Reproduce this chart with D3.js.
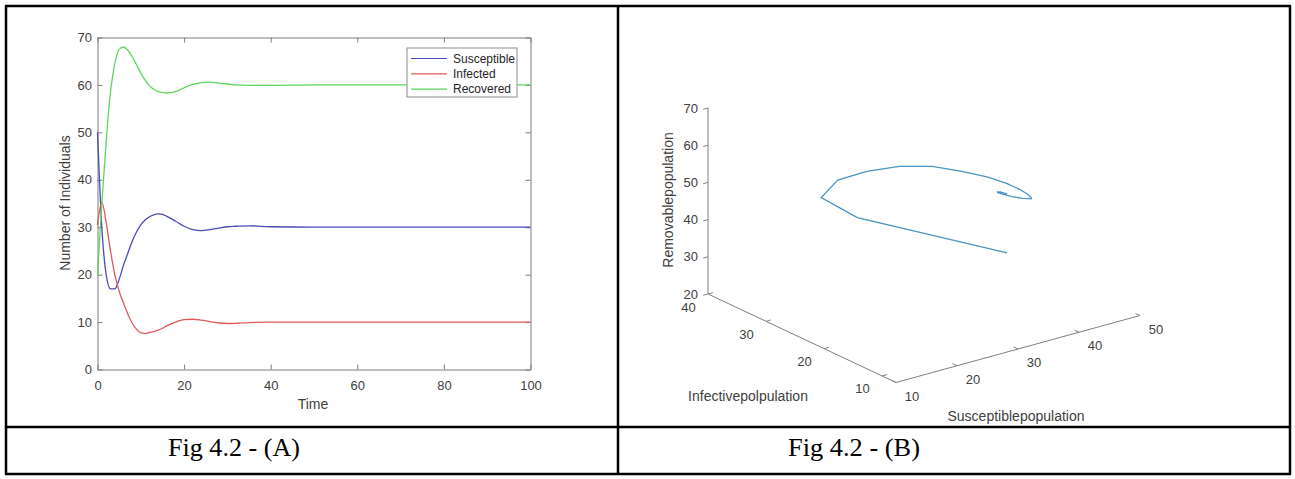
<!DOCTYPE html>
<html>
<head>
<meta charset="utf-8">
<script src="https://cdn.jsdelivr.net/npm/d3@7"></script>
<style>
	body { margin: 0; background: #fff; }
	svg { display: block; font-family: "Liberation Sans", Arial, sans-serif; }
	.axis path, .axis line { stroke: #7d7d7d; stroke-width: 1; fill: none; }
	.axis text { fill: #404040; font-size: 13px; }
	.axis-title { fill: #404040; font-size: 14px; }
	.series { fill: none; stroke-width: 1.3; }
	.legend-box { fill: #fff; stroke: #8c8c8c; stroke-width: 1; }
	.legend text { fill: #262626; font-size: 12px; }
	.table-line { stroke: #000; stroke-width: 2.5; fill: none; }
	.caption { font-family: "Liberation Serif", "DejaVu Serif", serif; font-size: 25px; fill: #000; }
	.axis3d { stroke: #808080; stroke-width: 1; fill: none; }
	.tick3d text { fill: #404040; font-size: 13px; }
</style>
</head>
<body>
<div id="graphic"></div>
<script>
// Data (SIR model run)
var TIME = [0, 1, 2, 3, 4, 5, 6, 7, 8, 9, 10, 11, 12, 13, 14, 15, 16, 18, 20, 22, 24, 26, 28, 30, 32, 35, 40, 50, 60, 80, 100];
var SUSCEPTIBLE = [50, 30, 20, 17, 17, 19, 22, 24.5, 27, 29, 30.5, 31.5, 32.2, 32.6, 32.8, 32.7, 32.3, 31.3, 30.2, 29.5, 29.3, 29.5, 29.8, 30.1, 30.2, 30.3, 30.1, 30, 30, 30, 30];
var INFECTED = [30.5, 35.3, 31, 25, 20, 16.5, 14, 11.7, 9.8, 8.5, 7.7, 7.6, 7.8, 8.0, 8.3, 8.7, 9.2, 10, 10.5, 10.6, 10.4, 10.1, 9.8, 9.7, 9.75, 9.9, 10, 10, 10, 10, 10];
var RECOVERED = [20, 35, 48, 58.5, 64.5, 67.5, 68, 67.3, 66, 64.3, 62.5, 61, 59.8, 59.1, 58.6, 58.4, 58.3, 58.6, 59.4, 60.1, 60.5, 60.6, 60.4, 60.2, 60, 59.9, 59.9, 60, 60, 60, 60];

var SERIES_NAMES = ['Susceptible', 'Infected', 'Recovered'];
var SERIES_COLORS = ['#4a4ab8', '#e05a5c', '#5ed65e'];

var X_TICKS = [0, 20, 40, 60, 80, 100];
var Y_TICKS = [0, 10, 20, 30, 40, 50, 60, 70];

// 3D axis ticks
var S_TICKS = [10, 20, 30, 40, 50];
var I_TICKS = [10, 20, 30, 40];
var R_TICKS = [20, 30, 40, 50, 60, 70];

var CAPTIONS = ['Fig 4.2 - (A)', 'Fig 4.2 - (B)'];

var WIDTH = 1295;
var HEIGHT = 479;

/*
 * Build rows for the line generators.
 */
function formatData() {
	var values = [SUSCEPTIBLE, INFECTED, RECOVERED];
	var series = SERIES_NAMES.map(function(name, k) {
		return {
			name: name,
			color: SERIES_COLORS[k],
			values: TIME.map(function(t, i) { return { t: t, v: values[k][i] }; })
		};
	});
	var trajectory = TIME.map(function(t, i) {
		return { s: SUSCEPTIBLE[i], i: INFECTED[i], r: RECOVERED[i] };
	});
	return { series: series, trajectory: trajectory };
}

function render() {
	var data = formatData();

	var svg = d3.select('#graphic').append('svg')
		.attr('width', WIDTH)
		.attr('height', HEIGHT);

	drawTable(svg);
	drawTimePlot(svg, data.series);
	drawPhasePlot(svg, data.trajectory);
}

/*
 * Table frame and captions.
 */
function drawTable(svg) {
	var left = 6, right = 1290, top = 6, bottom = 474, mid = 618, row = 427;

	svg.append('rect')
		.attr('class', 'table-line')
		.attr('x', left).attr('y', top)
		.attr('width', right - left).attr('height', bottom - top);

	svg.append('line').attr('class', 'table-line')
		.attr('x1', mid).attr('x2', mid).attr('y1', top).attr('y2', bottom);

	svg.append('line').attr('class', 'table-line')
		.attr('x1', left).attr('x2', right).attr('y1', row).attr('y2', row);

	var captionX = [168, 788];
	svg.selectAll('text.caption')
		.data(CAPTIONS)
		.enter().append('text')
		.attr('class', 'caption')
		.attr('x', function(d, i) { return captionX[i]; })
		.attr('y', 456)
		.attr('textLength', 132)
		.attr('lengthAdjust', 'spacingAndGlyphs')
		.text(function(d) { return d; });
}

/*
 * Left panel: populations against time.
 */
function drawTimePlot(svg, series) {
	var xScale = d3.scaleLinear().domain([0, 100]).range([97.5, 530.5]);
	var yScale = d3.scaleLinear().domain([0, 70]).range([369.5, 37.5]);

	var g = svg.append('g');

	g.append('g')
		.attr('class', 'axis')
		.attr('transform', 'translate(0,' + yScale(0) + ')')
		.call(d3.axisBottom(xScale).tickValues(X_TICKS).tickSizeInner(-5).tickSizeOuter(0).tickPadding(11));

	g.append('g')
		.attr('class', 'axis')
		.attr('transform', 'translate(0,' + yScale(70) + ')')
		.call(d3.axisTop(xScale).tickValues(X_TICKS).tickSizeInner(-5).tickSizeOuter(0).tickFormat(''));

	g.append('g')
		.attr('class', 'axis')
		.attr('transform', 'translate(' + xScale(0) + ',0)')
		.call(d3.axisLeft(yScale).tickValues(Y_TICKS).tickSizeInner(-5).tickSizeOuter(0).tickPadding(5.5));

	g.append('g')
		.attr('class', 'axis')
		.attr('transform', 'translate(' + xScale(100) + ',0)')
		.call(d3.axisRight(yScale).tickValues(Y_TICKS).tickSizeInner(-5).tickSizeOuter(0).tickFormat(''));

	var line = d3.line()
		.curve(d3.curveMonotoneX)
		.x(function(d) { return xScale(d.t); })
		.y(function(d) { return yScale(d.v); });

	g.append('g').selectAll('path')
		.data(series)
		.enter().append('path')
		.attr('class', 'series')
		.attr('stroke', function(d) { return d.color; })
		.attr('d', function(d) { return line(d.values); });

	// axis titles
	g.append('text')
		.attr('class', 'axis-title')
		.attr('transform', 'translate(65,203) rotate(-90)')
		.attr('text-anchor', 'middle')
		.attr('dy', '0.35em')
		.text('Number of Individuals');

	g.append('text')
		.attr('class', 'axis-title')
		.attr('x', 313).attr('y', 404)
		.attr('text-anchor', 'middle')
		.attr('dy', '0.35em')
		.text('Time');

	// legend
	var legend = g.append('g').attr('class', 'legend');
	legend.append('rect')
		.attr('class', 'legend-box')
		.attr('x', 407).attr('y', 48)
		.attr('width', 110).attr('height', 49);

	var items = legend.selectAll('g.item')
		.data(series)
		.enter().append('g')
		.attr('class', 'item')
		.attr('transform', function(d, i) { return 'translate(0,' + (58.5 + i * 15.3) + ')'; });

	items.append('line')
		.attr('x1', 411).attr('x2', 447)
		.attr('stroke', function(d) { return d.color; })
		.attr('stroke-width', 1.2);

	items.append('text')
		.attr('x', 453)
		.attr('dy', '0.35em')
		.text(function(d) { return d.name; });
}

/*
 * Right panel: 3D phase trajectory (S, I, R), MATLAB-style default view.
 */
function drawPhasePlot(svg, trajectory) {
	// each scale gives the fraction along its axis
	var sScale = d3.scaleLinear().domain([10, 50]).range([0, 1]);
	var iScale = d3.scaleLinear().domain([7.6, 40]).range([0, 1]);
	var rScale = d3.scaleLinear().domain([20, 70]).range([0, 1]);

	// screen vectors of the projected axes
	var origin = [896, 382.5];
	var eS = [244, -67];
	var eI = [-188, -88.5];
	var eR = [0, -186];

	function project(s, i, r) {
		var a = sScale(s), b = iScale(i), c = rScale(r);
		return [
			origin[0] + a * eS[0] + b * eI[0] + c * eR[0],
			origin[1] + a * eS[1] + b * eI[1] + c * eR[1]
		];
	}

	function unit(v) {
		var n = Math.sqrt(v[0] * v[0] + v[1] * v[1]);
		return [v[0] / n, v[1] / n];
	}

	var g = svg.append('g');
	var tickLen = 5;

	// axis lines
	var axes = [
		[project(10, 7.6, 20), project(50, 7.6, 20)],
		[project(10, 7.6, 20), project(10, 40, 20)],
		[project(10, 40, 20), project(10, 40, 70)]
	];
	g.selectAll('line.axis3d')
		.data(axes)
		.enter().append('line')
		.attr('class', 'axis3d')
		.attr('x1', function(d) { return d[0][0]; })
		.attr('y1', function(d) { return d[0][1]; })
		.attr('x2', function(d) { return d[1][0]; })
		.attr('y2', function(d) { return d[1][1]; });

	var uS = unit(eS), uI = unit(eI);

	// S ticks: point toward +I
	var sTicks = g.append('g').attr('class', 'tick3d');
	S_TICKS.forEach(function(v) {
		var p = project(v, 7.6, 20);
		sTicks.append('line').attr('class', 'axis3d')
			.attr('x1', p[0]).attr('y1', p[1])
			.attr('x2', p[0] + uI[0] * tickLen).attr('y2', p[1] + uI[1] * tickLen);
		sTicks.append('text')
			.attr('x', p[0] + 16).attr('y', p[1] + 13.5)
			.attr('text-anchor', 'middle').attr('dy', '0.35em')
			.text(v);
	});

	// I ticks: point toward +S
	var iTicks = g.append('g').attr('class', 'tick3d');
	I_TICKS.forEach(function(v) {
		var p = project(10, v, 20);
		iTicks.append('line').attr('class', 'axis3d')
			.attr('x1', p[0]).attr('y1', p[1])
			.attr('x2', p[0] + uS[0] * tickLen).attr('y2', p[1] + uS[1] * tickLen);
		iTicks.append('text')
			.attr('x', p[0] - 19.5).attr('y', p[1] + 13)
			.attr('text-anchor', 'middle').attr('dy', '0.35em')
			.text(v);
	});

	// R ticks: point away from S
	var rTicks = g.append('g').attr('class', 'tick3d');
	R_TICKS.forEach(function(v) {
		var p = project(10, 40, v);
		rTicks.append('line').attr('class', 'axis3d')
			.attr('x1', p[0]).attr('y1', p[1])
			.attr('x2', p[0] - uS[0] * tickLen).attr('y2', p[1] - uS[1] * tickLen);
		rTicks.append('text')
			.attr('x', p[0] - 10).attr('y', p[1])
			.attr('text-anchor', 'end').attr('dy', '0.35em')
			.text(v);
	});

	var path = d3.line()
		.x(function(d) { return project(d.s, d.i, d.r)[0]; })
		.y(function(d) { return project(d.s, d.i, d.r)[1]; });

	g.append('path')
		.datum(trajectory)
		.attr('class', 'series')
		.attr('stroke', '#4d93c4')
		.attr('d', path);

	// axis titles
	g.append('text')
		.attr('class', 'axis-title')
		.attr('transform', 'translate(668,200) rotate(-90)')
		.attr('text-anchor', 'middle')
		.attr('dy', '0.35em')
		.text('Removablepopulation');

	g.append('text')
		.attr('class', 'axis-title')
		.attr('x', 748).attr('y', 396)
		.attr('text-anchor', 'middle')
		.attr('dy', '0.35em')
		.text('Infectivepolpulation');

	g.append('text')
		.attr('class', 'axis-title')
		.attr('x', 1016).attr('y', 416)
		.attr('text-anchor', 'middle')
		.attr('dy', '0.35em')
		.text('Susceptiblepopulation');
}

document.addEventListener('DOMContentLoaded', function() {
	render();
});
</script>
</body>
</html>
